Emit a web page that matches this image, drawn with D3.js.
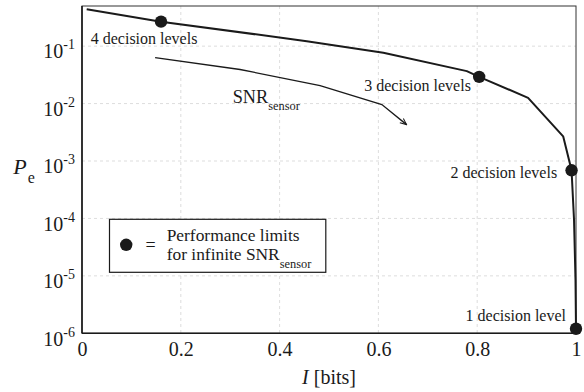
<!DOCTYPE html>
<html>
<head>
<meta charset="utf-8">
<script src="https://cdn.jsdelivr.net/npm/d3@7/dist/d3.min.js"></script>
<style>
  html, body { margin: 0; padding: 0; background: #fff; }
  svg { display: block; font-family: "Liberation Serif", "Times New Roman", serif; }
</style>
</head>
<body>
<svg id="chart" width="584" height="392"></svg>
<script>
// Performance-limit curve (infinite sensor SNR): mutual information vs error probability
const limitI  = [0.0095, 0.16, 0.455, 0.61, 0.779, 0.804, 0.903, 0.974, 0.991, 0.996, 0.999, 1.0];
const limitPe = [0.437, 0.267, 0.122, 0.0767, 0.0367, 0.0292, 0.0126, 0.00269, 0.00069, 0.000095, 0.0000085, 0.0000012];

// Operating points for each number of decision levels
const levelNames = ["4 decision levels", "3 decision levels", "2 decision levels", "1 decision level"];
const levelI  = [0.16, 0.804, 0.991, 1.0];
const levelPe = [0.267, 0.0292, 0.00069, 0.0000012];

// Trajectory for decreasing sensor SNR (4 decision levels)
const snrI  = [0.148, 0.32, 0.482, 0.607, 0.657];
const snrPe = [0.063, 0.0392, 0.0206, 0.0096, 0.0043];

// Axis ticks
const xTicks = [0, 0.2, 0.4, 0.6, 0.8, 1];
const xTickLabels = ["0", "0.2", "0.4", "0.6", "0.8", "1"];
const yTicks = [1e-6, 1e-5, 1e-4, 1e-3, 1e-2, 1e-1];
const yTickExps = ["-6", "-5", "-4", "-3", "-2", "-1"];

const W = 584, H = 392;
const m = { left: 82, right: 8, top: 6, bottom: 58.7 };
const pw = W - m.left - m.right, ph = H - m.top - m.bottom;
const ink = "#1a1a1a";

const svg = d3.select("#chart");
const g = svg.append("g").attr("transform", `translate(${m.left},${m.top})`);

const x = d3.scaleLinear().domain([0, 1]).range([0, pw]);
const y = d3.scaleLog().domain([1e-6, 0.5]).range([ph, 0]);

// Dashed grid
g.append("g").selectAll("line").data(xTicks.slice(1, -1)).join("line")
  .attr("x1", d => x(d)).attr("x2", d => x(d)).attr("y1", 0).attr("y2", ph)
  .attr("stroke", "#d4d4d4").attr("stroke-width", 0.8).attr("stroke-dasharray", "3,3");
g.append("g").selectAll("line").data(yTicks.slice(1)).join("line")
  .attr("x1", 0).attr("x2", pw).attr("y1", d => y(d)).attr("y2", d => y(d))
  .attr("stroke", "#d4d4d4").attr("stroke-width", 0.8).attr("stroke-dasharray", "3,3");

// Axes (labels only, no tick marks)
const xAxis = g.append("g").attr("transform", `translate(0,${ph})`)
  .call(d3.axisBottom(x).tickValues(xTicks).tickSize(0).tickPadding(0)
        .tickFormat((d, i) => xTickLabels[i]));
xAxis.select(".domain").remove();
xAxis.selectAll("text").attr("font-size", 20).attr("fill", ink)
  .attr("font-family", "Liberation Serif").attr("dy", null).attr("y", 22.4);

const yAxis = g.append("g")
  .call(d3.axisLeft(y).tickValues(yTicks).tickSize(0).tickPadding(0).tickFormat(() => ""));
yAxis.select(".domain").remove();
yAxis.selectAll(".tick text").each(function (d, i) {
  const t = d3.select(this).attr("x", -38.7).attr("dy", null).attr("y", 11.7)
    .attr("text-anchor", "start").attr("fill", ink).attr("font-family", "Liberation Serif");
  t.append("tspan").attr("font-size", 20).text("10");
  t.append("tspan").attr("font-size", 14).attr("dy", -9).text(yTickExps[i]);
});

// Plot frame
g.append("rect").attr("x", 0).attr("y", 0).attr("width", pw).attr("height", ph)
  .attr("fill", "none").attr("stroke", "#333").attr("stroke-width", 1);
g.append("line").attr("x1", 0).attr("x2", 0).attr("y1", 0).attr("y2", ph)
  .attr("stroke", ink).attr("stroke-width", 1.6);
g.append("line").attr("x1", 0).attr("x2", pw).attr("y1", ph).attr("y2", ph)
  .attr("stroke", ink).attr("stroke-width", 1.6);

const line = d3.line().x(d => x(d[0])).y(d => y(d[1]));

// Limit curve
g.append("path").datum(limitI.map((v, i) => [v, limitPe[i]]))
  .attr("d", line).attr("fill", "none").attr("stroke", ink)
  .attr("stroke-width", 2).attr("stroke-linejoin", "round");

// SNR trajectory with arrow
svg.append("defs").append("marker")
  .attr("id", "arrow").attr("viewBox", "0 0 10 10").attr("refX", 9).attr("refY", 5)
  .attr("markerWidth", 8).attr("markerHeight", 8).attr("markerUnits", "userSpaceOnUse")
  .attr("orient", "auto")
  .append("path").attr("d", "M1,1.5 L9,5 L1,8.5").attr("fill", "none")
  .attr("stroke", ink).attr("stroke-width", 1.3);
g.append("path").datum(snrI.map((v, i) => [v, snrPe[i]]))
  .attr("d", line).attr("fill", "none").attr("stroke", ink)
  .attr("stroke-width", 1.3).attr("marker-end", "url(#arrow)");

// Decision-level points
g.append("g").selectAll("circle").data(levelI).join("circle")
  .attr("cx", d => x(d)).attr("cy", (d, i) => y(levelPe[i])).attr("r", 6.2).attr("fill", ink);

// Point labels, placed relative to each point
const labelOffsets = [[-70.3, 22.7, "start"], [-8.3, 14.4, "end"], [-14.4, 7.6, "end"], [-10, -7.6, "end"]];
g.append("g").selectAll("text").data(levelNames).join("text")
  .attr("x", (d, i) => x(levelI[i]) + labelOffsets[i][0])
  .attr("y", (d, i) => y(levelPe[i]) + labelOffsets[i][1])
  .attr("text-anchor", (d, i) => labelOffsets[i][2])
  .attr("font-size", 16).attr("fill", ink).text(d => d);

// SNR_sensor label
const snrLbl = svg.append("text").attr("x", 232.7).attr("y", 103.3).attr("fill", ink);
snrLbl.append("tspan").attr("font-size", 18.3).text("SNR");
snrLbl.append("tspan").attr("font-size", 12.4).attr("dy", 6.7).text("sensor");

// Legend
const lg = svg.append("g");
lg.append("rect").attr("x", 109.5).attr("y", 219.3).attr("width", 216.3).attr("height", 53)
  .attr("fill", "#fff").attr("stroke", ink).attr("stroke-width", 1.2);
lg.append("circle").attr("cx", 126.2).attr("cy", 244.8).attr("r", 6.2).attr("fill", ink);
lg.append("text").attr("x", 145.5).attr("y", 250.8).attr("font-size", 18).attr("fill", ink).text("=");
lg.append("text").attr("x", 166.7).attr("y", 241.3).attr("font-size", 17.4).attr("fill", ink)
  .text("Performance limits");
const lg2 = lg.append("text").attr("x", 166.7).attr("y", 259.6).attr("fill", ink);
lg2.append("tspan").attr("font-size", 17.4).text("for infinite SNR");
lg2.append("tspan").attr("font-size", 12.4).attr("dy", 8.2).text("sensor");

// Axis titles
const yt = svg.append("text").attr("x", 13.3).attr("y", 174).attr("fill", ink);
yt.append("tspan").attr("font-size", 22).attr("font-style", "italic").text("P");
yt.append("tspan").attr("font-size", 16).attr("dx", 1).attr("dy", 8.5).text("e");

const xt = svg.append("text").attr("x", m.left + pw / 2).attr("y", 384.3)
  .attr("text-anchor", "middle").attr("font-size", 20).attr("fill", ink);
xt.append("tspan").attr("font-style", "italic").text("I");
xt.append("tspan").text(" [bits]");
</script>
</body>
</html>
